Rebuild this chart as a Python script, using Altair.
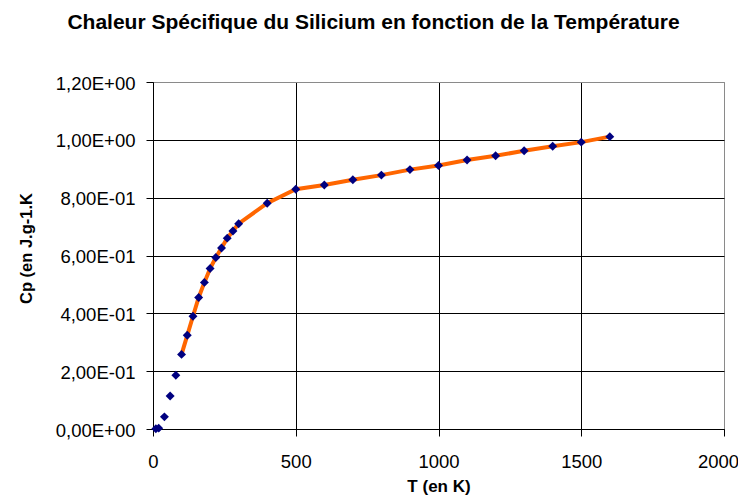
import altair as alt
import pandas as pd

# Temperature (K) and specific heat (J/g.K)
T_values = [10, 20, 40, 60, 80, 100, 120, 140, 160, 180, 200, 220, 240, 260, 280, 300,
            400, 500, 600, 700, 800, 900, 1000, 1100, 1200, 1300, 1400, 1500, 1600]
Cp_values = [0.001, 0.003, 0.042, 0.114, 0.186, 0.258, 0.324, 0.390, 0.455, 0.507,
             0.555, 0.593, 0.626, 0.660, 0.685, 0.710, 0.781, 0.829, 0.844, 0.862,
             0.878, 0.897, 0.911, 0.930, 0.945, 0.962, 0.978, 0.992, 1.011]

x_ticks = [0, 500, 1000, 1500, 2000]
y_ticks = [0, 0.2, 0.4, 0.6, 0.8, 1.0, 1.2]
y_tick_labels = ["0,00E+00", "2,00E-01", "4,00E-01", "6,00E-01", "8,00E-01", "1,00E+00", "1,20E+00"]

title_text = "Chaleur Spécifique du Silicium en fonction de la Température"
x_title = "T (en K)"
y_title = "Cp (en J.g-1.K"

df = pd.DataFrame({"T": T_values, "Cp": Cp_values})

FONT = "Liberation Sans"
label_expr = "[" + ",".join("'%s'" % s for s in y_tick_labels) + "][round(datum.value*5)]"

x_enc = alt.X(
    "T:Q",
    scale=alt.Scale(domain=[0, 2000], nice=False, zero=True),
    axis=alt.Axis(
        values=x_ticks, format="d", title=x_title, grid=True,
        gridColor={"condition": {"test": "datum.value >= 2000", "value": "#8a8a8a"}, "value": "#000000"},
        gridWidth=1, domainColor="#000000", tickColor="#000000", tickSize=7,
        labelFont=FONT, labelFontSize=18.5, labelColor="#000000", labelPadding=16,
        labelOffset={"condition": {"test": "datum.value >= 2000", "value": -6}, "value": 0},
        labelFlush=False, labelOverlap=False,
        titleFont=FONT, titleFontSize=17, titleFontWeight="bold", titleColor="#000000",
        titleBaseline="alphabetic", titleAlign="center", titleX=285.5, titleY=62,
    ),
)
y_enc = alt.Y(
    "Cp:Q",
    scale=alt.Scale(domain=[0, 1.2], nice=False),
    axis=alt.Axis(
        values=y_ticks, title=y_title, labelExpr=label_expr, grid=True,
        gridColor={"condition": {"test": "datum.value >= 1.19", "value": "#8a8a8a"}, "value": "#000000"},
        gridWidth=1, domainColor="#000000", tickColor="#000000", tickSize=7,
        labelFont=FONT, labelFontSize=18.5, labelColor="#000000", labelPadding=11,
        labelOffset=1, labelOverlap=False,
        titleFont=FONT, titleFontSize=16.5, titleFontWeight="bold", titleColor="#000000",
        titleAngle=270, titleBaseline="alphabetic", titleAlign="center",
        titleX=-122, titleY=166,
    ),
)

base = alt.Chart(df)

line = base.transform_filter("datum.T >= 100").mark_line(
    color="#FF6600", strokeWidth=4
).encode(x=x_enc, y=y_enc)

points = base.mark_point(
    shape="diamond", filled=True, color="#000080", size=80, opacity=1
).encode(x=x_enc, y=y_enc)

chart = (
    alt.layer(line, points)
    .properties(
        width=571,
        height=347,
        title=alt.TitleParams(
            text=title_text, font=FONT, fontSize=21, fontWeight="bold", color="#000000",
            anchor="middle", dx=-65, offset=41,
        ),
        autosize=alt.AutoSizeParams(type="none"),
        padding={"left": 145, "top": 74, "right": 14, "bottom": 67},
        background="white",
    )
    .configure_view(stroke="#8a8a8a", strokeWidth=1)
)

chart.save("out.html", embed_options={"renderer": "svg", "actions": False})
